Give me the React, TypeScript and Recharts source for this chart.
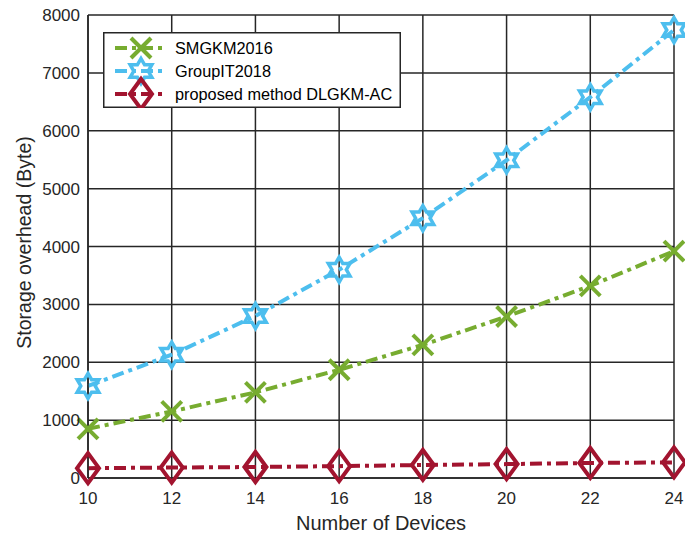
import { LineChart, Line, XAxis, YAxis, CartesianGrid, Legend } from 'recharts';

const devices = [10, 12, 14, 16, 18, 20, 22, 24];
const smgkm = [850, 1150, 1480, 1870, 2300, 2790, 3320, 3920];
const groupIT = [1590, 2130, 2800, 3600, 4490, 5490, 6580, 7740];
const dlgkm = [170, 180, 190, 205, 225, 240, 260, 270];

const xTicks = [10, 12, 14, 16, 18, 20, 22, 24];
const yTicks = [0, 1000, 2000, 3000, 4000, 5000, 6000, 7000, 8000];

const seriesNames = ['SMGKM2016', 'GroupIT2018', 'proposed method DLGKM-AC'];

const data = devices.map((d, i) => ({
  devices: d,
  smgkm: smgkm[i],
  groupIT: groupIT[i],
  dlgkm: dlgkm[i],
}));

const GREEN = '#77AC30';
const BLUE = '#4DBEEE';
const RED = '#A2142F';
const AXIS = '#262626';
const FONT = '"Liberation Sans", Arial, Helvetica, sans-serif';
const DASH = '12 5 4 5';

type MarkerKind = 'x' | 'hex' | 'diamond';

function Marker({ kind, cx, cy, color }: { kind: MarkerKind; cx: number; cy: number; color: string }) {
  if (kind === 'x') {
    const r = 10;
    return (
      <g stroke={color} strokeWidth={4} strokeLinecap="butt">
        <line x1={cx - r} y1={cy - r} x2={cx + r} y2={cy + r} />
        <line x1={cx - r} y1={cy + r} x2={cx + r} y2={cy - r} />
      </g>
    );
  }
  if (kind === 'hex') {
    const R = 12.5;
    const r = R / Math.sqrt(3);
    const pts: string[] = [];
    for (let k = 0; k < 12; k++) {
      const rad = k % 2 === 0 ? R : r;
      const a = (-90 + k * 30) * (Math.PI / 180);
      pts.push(`${cx + rad * Math.cos(a)},${cy + rad * Math.sin(a)}`);
    }
    return <polygon points={pts.join(' ')} fill="none" stroke={color} strokeWidth={3.5} strokeLinejoin="miter" />;
  }
  const w = 11;
  const h = 15;
  return (
    <polygon
      points={`${cx},${cy - h} ${cx + w},${cy} ${cx},${cy + h} ${cx - w},${cy}`}
      fill="none"
      stroke={color}
      strokeWidth={4}
    />
  );
}

const markerDot = (kind: MarkerKind, color: string) => (props: any) => {
  const { cx, cy, index } = props;
  if (cx == null || cy == null) return <g key={`m-${kind}-${index}`} />;
  return <Marker key={`m-${kind}-${index}`} kind={kind} cx={cx} cy={cy} color={color} />;
};

const legendItems: { kind: MarkerKind; color: string; name: string }[] = [
  { kind: 'x', color: GREEN, name: seriesNames[0] },
  { kind: 'hex', color: BLUE, name: seriesNames[1] },
  { kind: 'diamond', color: RED, name: seriesNames[2] },
];

function LegendBox() {
  return (
    <svg width={298} height={76} style={{ display: 'block' }}>
      <rect x={0.75} y={0.75} width={296.5} height={74.5} fill="#fff" stroke={AXIS} strokeWidth={1.5} />
      {legendItems.map((it, i) => {
        const cy = 16 + i * 23;
        return (
          <g key={it.name}>
            <line x1={12} y1={cy} x2={64} y2={cy} stroke={it.color} strokeWidth={4} strokeDasharray={DASH} />
            <Marker kind={it.kind} cx={38} cy={cy} color={it.color} />
            <text x={72} y={cy} dy="0.36em" fontSize={16.3} fontFamily={FONT} fill="#000">
              {it.name}
            </text>
          </g>
        );
      })}
    </svg>
  );
}

function YLabel(props: any) {
  const { viewBox } = props;
  const x = viewBox.x + 24;
  const y = viewBox.y + viewBox.height / 2 - 4;
  return (
    <text
      x={x}
      y={y}
      transform={`rotate(-90, ${x}, ${y})`}
      textAnchor="middle"
      dominantBaseline="central"
      fontSize={19.5}
      fontFamily={FONT}
      fill={AXIS}
    >
      Storage overhead (Byte)
    </text>
  );
}

export default function App() {
  return (
    <div style={{ position: 'absolute', left: 0, top: 0, width: 685, height: 539, background: '#fff' }}>
      <LineChart width={685} height={539} data={data} margin={{ top: 15, right: 11, left: 0, bottom: 0 }}>
        <CartesianGrid stroke={AXIS} strokeWidth={1.5} />
        <XAxis
          dataKey="devices"
          type="number"
          domain={[10, 24]}
          ticks={xTicks}
          height={61}
          tickLine={false}
          tickMargin={8}
          axisLine={{ stroke: AXIS, strokeWidth: 1.5 }}
          tick={{ fill: AXIS, fontSize: 17, fontFamily: FONT }}
          label={{
            value: 'Number of Devices',
            position: 'insideBottom',
            offset: 9,
            fill: AXIS,
            fontSize: 20,
            fontFamily: FONT,
          }}
        />
        <YAxis
          type="number"
          domain={[0, 8000]}
          ticks={yTicks}
          width={88}
          tickLine={false}
          tickMargin={2}
          axisLine={{ stroke: AXIS, strokeWidth: 1.5 }}
          tick={{ fill: AXIS, fontSize: 17, fontFamily: FONT }}
          label={<YLabel />}
        />
        <Legend
          layout="vertical"
          align="center"
          verticalAlign="middle"
          wrapperStyle={{ left: 103, top: 32, width: 298, height: 76 }}
          content={() => <LegendBox />}
        />
        <Line
          dataKey="smgkm"
          name={seriesNames[0]}
          stroke={GREEN}
          strokeWidth={4}
          strokeDasharray={DASH}
          dot={markerDot('x', GREEN)}
          activeDot={false}
          isAnimationActive={false}
        />
        <Line
          dataKey="groupIT"
          name={seriesNames[1]}
          stroke={BLUE}
          strokeWidth={4}
          strokeDasharray={DASH}
          dot={markerDot('hex', BLUE)}
          activeDot={false}
          isAnimationActive={false}
        />
        <Line
          dataKey="dlgkm"
          name={seriesNames[2]}
          stroke={RED}
          strokeWidth={4}
          strokeDasharray={DASH}
          dot={markerDot('diamond', RED)}
          activeDot={false}
          isAnimationActive={false}
        />
      </LineChart>
    </div>
  );
}
